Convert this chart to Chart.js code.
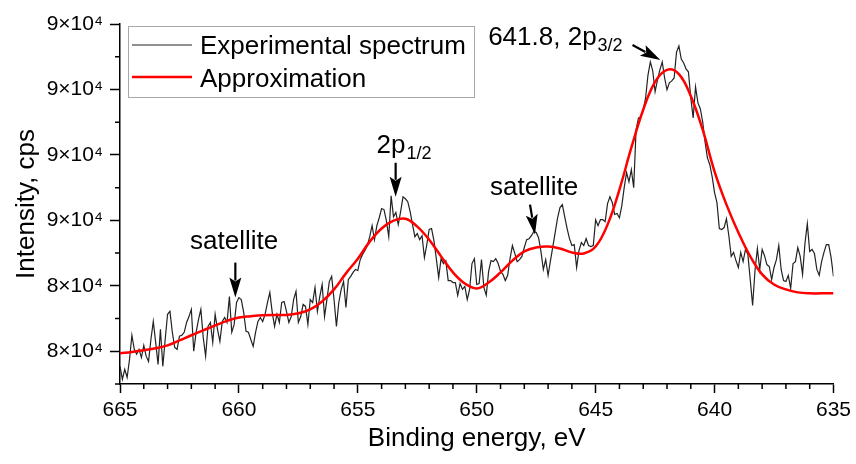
<!DOCTYPE html>
<html>
<head>
<meta charset="utf-8">
<title>Binding energy spectrum</title>
<script src="https://cdn.jsdelivr.net/npm/chart.js@4.4.1/dist/chart.umd.min.js"></script>
<style>
  html, body { margin: 0; padding: 0; background: #fff; }
  canvas { display: block; }
</style>
</head>
<body>
<canvas id="spectrum" width="856" height="464"></canvas>
<script>
// ── DATA ───────────────────────────────────────────────
// experimental spectrum, 665 -> 635 eV, one reading every 0.1 eV
const energyStart = 665;
const energyStep  = 0.1;
const expCounts = [
  81540, 81140, 81450, 81200, 81750, 82490, 82060, 81910, 82060, 81810,
  82180, 81850, 81690, 82360, 82910, 82270, 81600, 82670, 81540, 82360,
  83130, 83220, 82580, 82120, 82060, 82460, 82490, 82580, 82880, 83060,
  83280, 82000, 82580, 82970, 83280, 82420, 81850, 82760, 82880, 82270,
  83130, 82670, 82300, 82910, 83030, 82880, 83670, 82580, 82820, 83490,
  83640, 83580, 83190, 82610, 82580, 82360, 82150, 82580, 82910, 83030,
  82910, 83130, 83490, 83800, 83190, 82760, 83130, 82880, 83490, 83520,
  83220, 82880, 83060, 83580, 83830, 82880, 83060, 83430, 83370, 82820,
  83580, 83490, 83950, 83220, 83670, 84040, 83060, 83580, 84130, 84290,
  83580, 82760, 83490, 83890, 84130, 83340, 84190, 84290, 84410, 84500,
  84470, 84800, 84960, 85080, 85230, 85500, 85840, 85410, 85840, 86080,
  86360, 86330, 85990, 85500, 86750, 86110, 86240, 85870, 86270, 86720,
  86660, 86570, 86270, 85870, 85500, 85600, 85410, 85530, 84860, 85260,
  85720, 85750, 85380, 84830, 84250, 84830, 84680, 84770, 84160, 84160,
  84100, 84100, 83710, 84070, 83890, 83980, 83580, 83890, 84680, 84830,
  84040,
  84070, 84800, 83950, 83710, 84440, 84770, 84740, 84830, 84680, 84440,
  84350, 84160, 84320, 84830, 85230, 84990, 84740, 84800, 84900, 85170,
  85410, 85440, 85530, 85660, 85630, 85470, 85050, 84500, 84800, 84320,
  84770, 85200, 85630, 86080, 86390, 86480, 86110, 85750, 85440, 85230,
  85260, 84560, 85080, 85320, 85230, 85440, 85230, 85200, 85230, 86020,
  85840, 86020, 86020, 85960, 86510, 86720, 86540, 86180, 86210, 86080,
  86450, 87000, 87460, 87180, 87550, 87000, 88770, 89130, 89160, 89380,
  89740, 90440, 90840, 90570, 89930, 90290, 90600, 90840, 90350, 89990,
  90200, 90260, 90350, 91140, 91330, 90930, 90810, 90630, 90540, 89740,
  89130, 90080, 89590, 89410, 89010, 88400, 87910, 87700, 87330, 86850,
  86540, 85750, 85720, 85780, 86050, 85530, 84900, 85020, 84770, 84560,
  85020, 84740, 85110, 84960, 84190, 83400, 84470, 85140, 84500, 85110,
  84920, 84650, 84590, 84190, 84560, 84800, 85230, 84500, 84160, 84130,
  84320, 83920, 84680, 84740, 85170, 84900, 84350, 85290, 85900, 85050,
  85110, 84990, 84500, 84320, 84740, 85020, 85260, 85260, 84860, 84290
];

// fitted curve, read every 0.5 eV
const fitEnergies = [
  665, 664.5, 664, 663.5, 663, 662.5, 662, 661.5, 661, 660.5,
  660, 659.5, 659, 658.5, 658, 657.5, 657, 656.5, 656, 655.5,
  655, 654.5, 654, 653.5, 653, 652.5, 652, 651.5, 651, 650.5,
  650, 649.5, 649, 648.5, 648, 647.5, 647, 646.5, 646, 645.5,
  645, 644.5, 644, 643.5, 643, 642.5, 642, 641.5, 641, 640.5,
  640, 639.5, 639, 638.5, 638, 637.5, 637, 636.5, 636, 635.5,
  635
];
const fitCounts = [
  81940, 81980, 82030, 82090, 82180, 82330, 82490, 82640, 82790, 82930,
  83030, 83070, 83100, 83110, 83110, 83160, 83280, 83520, 83890, 84380,
  84830, 85350, 85750, 85990, 86050, 85810, 85410, 84900, 84410, 84070,
  83920, 84100, 84410, 84770, 85050, 85170, 85200, 85140, 85020, 84990,
  85200, 85870, 86940, 88220, 89380, 90230, 90600, 90470, 89800, 88770,
  87490, 86480, 85630, 84900, 84350, 84040, 83890, 83800, 83770, 83770,
  83770
];

const seriesLabels = ["Experimental spectrum", "Approximation"];
const xTickValues  = [665, 660, 655, 650, 645, 640, 635];
const yTickValues  = [82000, 84000, 86000, 88000, 90000, 92000];
const yTickLabels  = ["8×10⁴", "8×10⁴", "9×10⁴", "9×10⁴", "9×10⁴", "9×10⁴"];

// peak labels, placed in data coordinates (energy, counts)
const notes = [
  { text: "satellite", sub: "",    e: 660.2,  v: 85140, align: "center", arrow: [660.15, 84710, 660.15, 83640] },
  { text: "2p",        sub: "1/2", e: 654.21, v: 88070, align: "left",   arrow: [653.41, 87760, 653.41, 86720] },
  { text: "satellite", sub: "",    e: 647.59, v: 86780, align: "center", arrow: [647.76, 86480, 647.55, 85570] },
  { text: "641.8, 2p", sub: "3/2", e: 649.52, v: 91360, align: "left",   arrow: [643.45, 91360, 642.28, 90900] }
];

// ── POINTS ─────────────────────────────────────────────
const expPoints = expCounts.map((c, i) => ({ x: +(energyStart - i * energyStep).toFixed(1), y: c }));
const fitPoints = fitCounts.map((c, i) => ({ x: fitEnergies[i], y: c }));

const FONT = '"Liberation Sans", Arial, Helvetica, sans-serif';
Chart.defaults.font.family = FONT;
Chart.defaults.color = "#000";

// ── HELPERS ────────────────────────────────────────────
function drawArrow(ctx, x1, y1, x2, y2) {
  const ang = Math.atan2(y2 - y1, x2 - x1);
  const len = 20, half = 6;
  const bx = x2 - len * Math.cos(ang), by = y2 - len * Math.sin(ang);
  ctx.lineWidth = 2.2;
  ctx.beginPath();
  ctx.moveTo(x1, y1);
  ctx.lineTo(bx + 3 * Math.cos(ang), by + 3 * Math.sin(ang));
  ctx.stroke();
  ctx.beginPath();
  ctx.moveTo(x2, y2);
  ctx.lineTo(bx + half * Math.sin(ang), by - half * Math.cos(ang));
  ctx.lineTo(bx + 4 * Math.cos(ang), by + 4 * Math.sin(ang));
  ctx.lineTo(bx - half * Math.sin(ang), by + half * Math.cos(ang));
  ctx.closePath();
  ctx.fill();
}

// minor ticks, legend box, peak labels
const decorPlugin = {
  id: "decor",
  afterDraw(chart) {
    const { ctx, chartArea: area, scales: { x, y } } = chart;
    ctx.save();
    ctx.strokeStyle = "#000";
    ctx.fillStyle = "#000";

    // minor ticks
    ctx.lineWidth = 1.5;
    ctx.beginPath();
    for (let e = x.min + 1; e < x.max; e++) {
      if (e % 5 === 0) continue;
      const px = x.getPixelForValue(e);
      ctx.moveTo(px, area.bottom);
      ctx.lineTo(px, area.bottom + 5);
    }
    for (let v = y.min; v < y.max; v += 2000) {
      const py = y.getPixelForValue(v);
      ctx.moveTo(area.left - 5, py);
      ctx.lineTo(area.left, py);
    }
    ctx.stroke();

    // legend
    const L = area.left + 8, T = area.top + 2;
    ctx.lineWidth = 1;
    ctx.strokeStyle = "#a8a8a8";
    ctx.strokeRect(L + 0.5, T + 0.5, 346, 71);
    ctx.font = "26px " + FONT;
    ctx.textAlign = "left";
    ctx.textBaseline = "alphabetic";
    chart.data.datasets.forEach((ds, i) => {
      const ly = T + 19 + i * 32;
      ctx.strokeStyle = ds.borderColor;
      ctx.lineWidth = ds.borderWidth;
      ctx.beginPath();
      ctx.moveTo(L + 4, ly);
      ctx.lineTo(L + 64, ly);
      ctx.stroke();
      ctx.fillText(ds.label, L + 72, T + 28 + i * 33);
    });

    // peak labels + arrows
    ctx.strokeStyle = "#000";
    notes.forEach(n => {
      const px = x.getPixelForValue(n.e), py = y.getPixelForValue(n.v);
      ctx.font = "26px " + FONT;
      const w1 = ctx.measureText(n.text).width;
      ctx.font = "18px " + FONT;
      const w2 = n.sub ? ctx.measureText(n.sub).width : 0;
      const sx = n.align === "center" ? px - (w1 + w2) / 2 : px;
      ctx.textAlign = "left";
      ctx.font = "26px " + FONT;
      ctx.fillText(n.text, sx, py);
      if (n.sub) {
        ctx.font = "18px " + FONT;
        ctx.fillText(n.sub, sx + w1 + 1, py + 6);
      }
      const a = n.arrow;
      drawArrow(ctx, x.getPixelForValue(a[0]), y.getPixelForValue(a[1]),
                     x.getPixelForValue(a[2]), y.getPixelForValue(a[3]));
    });
    ctx.restore();
  }
};

// ── CHART ──────────────────────────────────────────────
new Chart(document.getElementById("spectrum"), {
  type: "line",
  data: {
    datasets: [{
      label: seriesLabels[0],
      data: expPoints,
      borderColor: "#222222",
      borderWidth: 1.2,
      pointRadius: 0,
      tension: 0,
      order: 2
    },
    {
      label: seriesLabels[1],
      data: fitPoints,
      borderColor: "#ff0000",
      borderWidth: 2.5,
      pointRadius: 0,
      tension: 0.4,
      order: 1
    }]
  },
  options: {
    responsive: false,
    animation: false,
    devicePixelRatio: 1,
    layout: { padding: { left: 0, right: 19, top: 24, bottom: 0 } },
    plugins: { legend: { display: false }, tooltip: { enabled: false } },
    scales: {
      x: {
        type: "linear",
        reverse: true,
        min: 635,
        max: 665,
        afterBuildTicks: s => { s.ticks = xTickValues.map(v => ({ value: v })); },
        afterFit: s => { s.height = 80; },
        ticks: { color: "#000", font: { size: 21 }, padding: 5, autoSkip: false, maxRotation: 0, callback: v => String(v) },
        grid: { drawOnChartArea: false, tickLength: 9, tickWidth: 1.5, tickColor: "#000" },
        border: { color: "#000", width: 1.5 },
        title: { display: true, text: "Binding energy, eV", color: "#000", font: { size: 26 }, padding: { top: 0, bottom: 10 } }
      },
      y: {
        min: 81000,
        max: 92000,
        afterBuildTicks: s => { s.ticks = yTickValues.map(v => ({ value: v })); },
        afterFit: s => { s.width = 120; },
        ticks: { color: "#000", font: { size: 21 }, padding: 7, callback: v => yTickLabels[yTickValues.indexOf(v)] },
        grid: { drawOnChartArea: false, tickLength: 10, tickWidth: 1.5, tickColor: "#000" },
        border: { color: "#000", width: 1.5 },
        title: { display: true, text: "Intensity, cps", color: "#000", font: { size: 26 }, padding: { top: 11, bottom: 0 } }
      }
    }
  },
  plugins: [decorPlugin]
});
</script>
</body>
</html>
